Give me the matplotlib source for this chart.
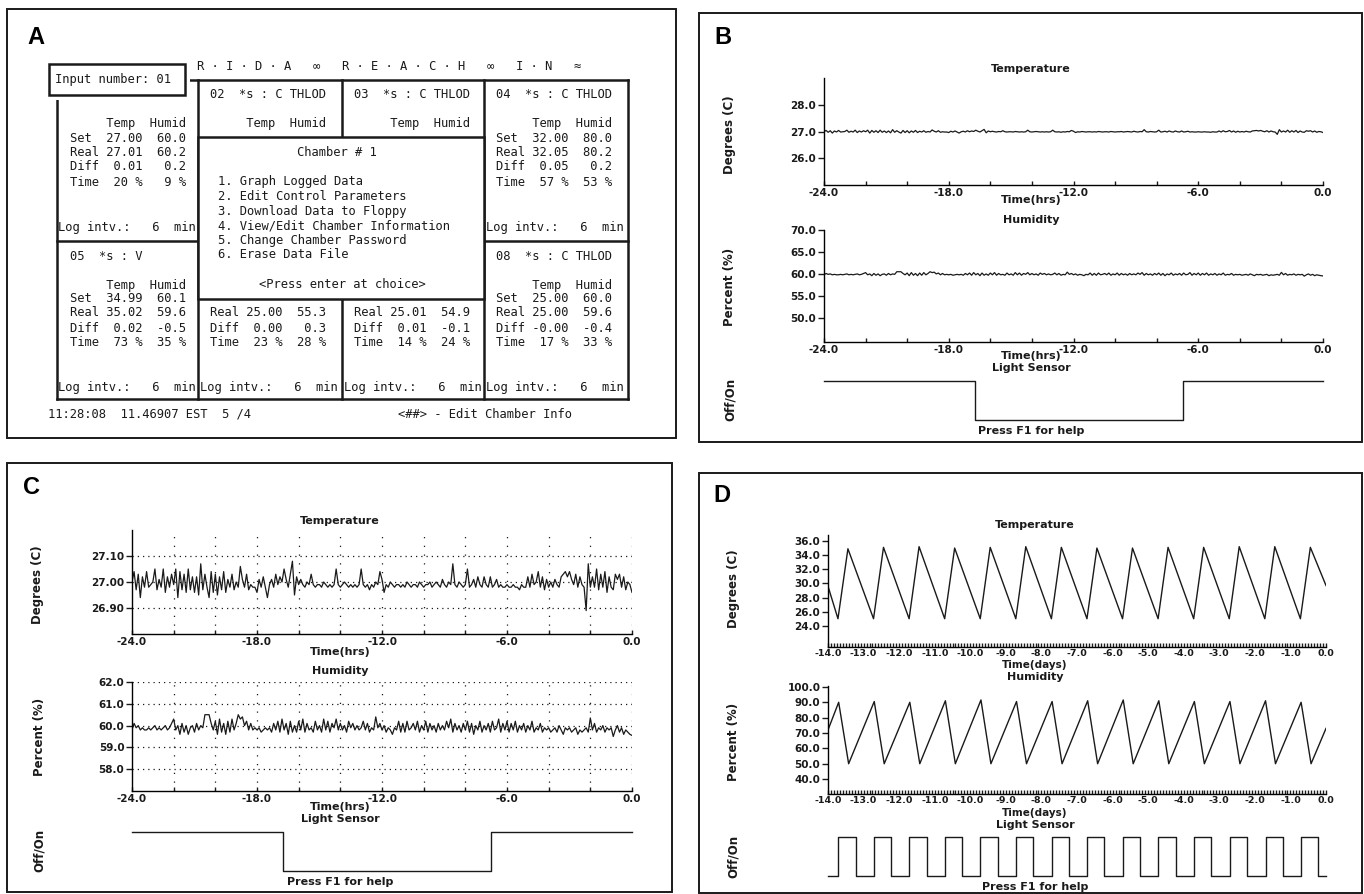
import matplotlib
matplotlib.use('Agg')
import matplotlib.pyplot as plt
from matplotlib.patches import Rectangle
from matplotlib.ticker import MultipleLocator
import numpy as np

W, H = 1364, 894

# ---------------- panel A: chamber overview screen ----------------
input_number = '01'
screen_header = 'R · I · D · A   ∞   R · E · A · C · H   ∞   I · N   ≈'
cell_titles = [None, '02  *s : C THLOD', '03  *s : C THLOD', '04  *s : C THLOD',
               '05  *s : V', None, None, '08  *s : C THLOD']
show_units = [True, True, True, True, True, False, False, True]
set_temp = [27.00, None, None, 32.00, 34.99, None, None, 25.00]
set_humid = [60.0, None, None, 80.0, 60.1, None, None, 60.0]
real_temp = [27.01, None, None, 32.05, 35.02, 25.00, 25.01, 25.00]
real_humid = [60.2, None, None, 80.2, 59.6, 55.3, 54.9, 59.6]
diff_temp = [0.01, None, None, 0.05, 0.02, 0.00, 0.01, -0.0]
diff_humid = [0.2, None, None, 0.2, -0.5, 0.3, -0.1, -0.4]
time_temp = [20, None, None, 57, 73, 23, 14, 17]
time_humid = [9, None, None, 53, 35, 28, 24, 33]
log_minutes = [6, None, None, 6, 6, 6, 6, 6]
menu_title = 'Chamber # 1'
menu_items = ['1. Graph Logged Data', '2. Edit Control Parameters',
              '3. Download Data to Floppy', '4. View/Edit Chamber Information',
              '5. Change Chamber Password', '6. Erase Data File']
menu_prompt = '<Press enter at choice>'
status_left = '11:28:08  11.46907 EST  5 /4'
status_right = '<##> - Edit Chamber Info'

# ---------------- panels B and C: 24 h log, 6 min interval ----------------
temp_24h = [
    27.00, 27.04, 26.97, 27.03, 26.94, 27.02, 26.98, 27.04, 26.98, 26.99,
    27.00, 27.05, 26.97, 27.01, 26.98, 27.05, 26.96, 27.02, 26.98, 27.03,
    26.99, 27.05, 26.94, 27.04, 26.97, 27.03, 26.96, 27.05, 26.97, 27.02,
    26.96, 27.02, 26.95, 27.07, 26.97, 27.03, 26.98, 26.94, 27.04, 26.96,
    27.03, 26.95, 27.02, 26.97, 27.04, 26.96, 27.01, 26.98, 27.03, 26.97,
    27.00, 26.98, 27.06, 27.01, 26.98, 27.03, 26.97, 26.99, 26.98, 26.98,
    26.96, 27.01, 26.98, 27.02, 26.98, 26.94, 26.99, 27.01, 26.98, 27.03,
    26.99, 27.02, 27.00, 27.05, 27.01, 26.98, 27.03, 27.08, 26.95, 27.02,
    26.99, 27.01, 26.99, 26.98, 27.00, 26.99, 27.03, 26.99, 26.98, 26.99,
    26.99, 26.98, 27.00, 26.99, 26.98, 26.99, 26.98, 26.99, 27.05, 26.99,
    26.98, 26.99, 27.00, 26.99, 26.98, 26.99, 26.98, 26.99, 26.98, 26.99,
    27.05, 26.99, 26.98, 26.99, 26.97, 26.99, 26.98, 27.00, 26.99, 27.04,
    27.01, 26.96, 26.99, 26.98, 27.00, 26.99, 26.98, 26.99, 26.99, 26.98,
    26.99, 26.98, 27.00, 26.99, 26.98, 26.99, 26.99, 26.98, 27.00, 26.99,
    26.98, 26.99, 26.99, 27.00, 26.98, 26.99, 27.00, 26.99, 26.98, 27.01,
    26.99, 26.98, 27.00, 26.99, 27.07, 26.99, 26.98, 27.00, 26.99, 26.98,
    26.99, 27.05, 26.98, 26.99, 27.01, 26.98, 27.02, 26.99, 26.98, 27.02,
    26.99, 26.98, 27.02, 26.98, 26.99, 27.01, 26.98, 26.99, 26.98, 26.98,
    26.99, 26.98, 26.98, 26.99, 26.98, 26.98, 26.97, 26.99, 26.98, 26.98,
    27.02, 26.98, 27.03, 26.99, 27.00, 27.04, 26.98, 27.02, 26.97, 27.01,
    26.98, 27.00, 26.98, 27.01, 26.99, 26.98, 27.02, 27.03, 27.04, 27.02,
    27.04, 27.01, 26.99, 27.03, 26.98, 27.02, 26.99, 26.98, 26.89, 27.07,
    26.98, 27.02, 26.98, 27.05, 26.97, 27.03, 26.98, 27.04, 26.96, 27.02,
    26.98, 26.97, 27.03, 27.01, 27.03, 26.98, 27.02, 26.97, 27.00, 26.99,
    26.96]
humid_24h = [
    59.8, 60.1, 59.9, 60.0, 59.8, 59.9, 59.8, 59.8, 59.9, 59.8,
    59.9, 60.0, 59.8, 59.9, 59.8, 59.9, 60.0, 59.8, 59.9, 60.1,
    60.3, 59.8, 60.0, 59.6, 60.1, 59.7, 60.0, 59.6, 59.9, 60.0,
    59.7, 60.1, 59.8, 60.0, 59.9, 60.5, 60.5, 60.5, 60.1, 59.8,
    60.2, 59.6, 60.3, 59.7, 60.1, 59.6, 60.2, 59.7, 60.3, 59.8,
    60.1, 60.5, 60.3, 60.4, 60.0, 60.2, 59.8, 60.1, 59.8, 59.9,
    59.8, 59.9, 59.7, 59.8, 59.9, 59.8, 59.9, 59.7, 60.1, 59.8,
    60.2, 59.7, 60.3, 59.8, 60.1, 59.6, 60.2, 59.7, 60.0, 59.7,
    60.2, 59.8, 60.3, 59.7, 60.1, 59.8, 59.9, 59.7, 60.2, 59.8,
    60.0, 59.7, 60.3, 59.8, 60.2, 59.7, 60.1, 59.9, 60.3, 59.8,
    60.1, 59.8, 60.0, 59.7, 60.2, 59.9, 60.1, 59.8, 60.0, 59.8,
    59.9, 60.2, 59.8, 60.1, 59.7, 59.9, 59.8, 60.4, 59.9, 60.1,
    59.8, 60.0, 59.7, 59.9, 59.8, 59.6, 59.9, 59.8, 60.2, 59.7,
    60.1, 59.7, 60.2, 59.8, 59.9, 60.1, 59.8, 60.2, 59.7, 60.0,
    59.8, 60.2, 59.7, 60.1, 59.8, 60.0, 59.7, 60.1, 59.8, 60.0,
    59.8, 60.2, 59.9, 60.3, 59.7, 60.1, 59.8, 60.0, 59.7, 60.1,
    59.8, 60.2, 59.7, 60.1, 59.6, 60.0, 59.8, 60.2, 59.7, 60.0,
    59.8, 60.1, 59.7, 60.2, 59.8, 59.9, 60.3, 59.7, 60.1, 59.8,
    60.2, 59.7, 60.1, 59.8, 60.2, 59.7, 60.0, 59.8, 60.1, 59.7,
    60.0, 59.8, 60.2, 59.7, 59.9, 59.8, 60.1, 59.7, 59.9, 59.8,
    59.9, 59.7, 59.8, 59.9, 59.7, 60.0, 59.8, 59.6, 59.9, 59.8,
    59.9, 59.7, 59.8, 59.9, 59.6, 59.8, 59.7, 59.8, 59.9, 59.7,
    60.35, 59.8, 60.1, 59.7, 59.9, 59.8, 60.0, 59.7, 59.9, 59.8,
    59.9, 59.5, 59.8, 60.0, 59.7, 59.9, 59.6, 59.8, 59.7, 59.6,
    59.55]
hours = np.linspace(-24, 0, len(temp_24h))
light_hours = [-24.0, -16.75, -6.75, 0.0]
light_state = [1, 0, 1, 1]
hour_ticks = [-24, -18, -12, -6, 0]
hour_labels = ['-24.0', '-18.0', '-12.0', '-6.0', '0.0']

# ---------------- panel D: 14 day cycling log ----------------
temp_d_days = [-14.0, -13.72, -13.44, -12.72, -12.44, -11.72, -11.44, -10.72, -10.44,
               -9.72, -9.44, -8.72, -8.44, -7.72, -7.44, -6.72, -6.44, -5.72, -5.44,
               -4.72, -4.44, -3.72, -3.44, -2.72, -2.44, -1.72, -1.44, -0.72, -0.44, 0.0]
temp_d_vals = [29.6, 25.0, 34.9, 25.0, 35.1, 25.0, 35.2, 25.0, 35.0, 25.0, 35.1, 25.0,
               35.2, 25.0, 35.1, 25.0, 35.0, 25.0, 35.0, 25.0, 35.1, 25.0, 35.1, 25.0,
               35.2, 25.0, 35.2, 25.0, 35.1, 29.7]
humid_d_days = [-14.0, -13.70, -13.42, -12.70, -12.42, -11.70, -11.42, -10.70, -10.42,
                -9.70, -9.42, -8.70, -8.42, -7.70, -7.42, -6.70, -6.42, -5.70, -5.42,
                -4.70, -4.42, -3.70, -3.42, -2.70, -2.42, -1.70, -1.42, -0.70, -0.42, 0.0]
humid_d_vals = [72.0, 90.0, 50.0, 90.5, 50.0, 90.0, 50.0, 91.0, 50.0, 91.5, 50.0, 90.5,
                50.0, 90.5, 50.0, 91.0, 50.0, 91.5, 50.0, 91.0, 50.0, 90.5, 50.0, 90.5,
                50.0, 91.0, 50.0, 90.0, 50.0, 73.0]
light_d_on = [-13.71, -12.72, -11.72, -10.72, -9.72, -8.72, -7.71,
              -6.72, -5.71, -4.71, -3.71, -2.71, -1.70, -0.71]
light_d_off = [-13.22, -12.23, -11.23, -10.23, -9.23, -8.23, -7.22,
               -6.23, -5.22, -4.22, -3.22, -2.22, -1.21, -0.22]
day_ticks = list(range(-14, 1))
day_labels = ['%.1f' % d for d in day_ticks]

plt.rcParams['font.family'] = ['DejaVu Sans']
plt.rcParams['font.weight'] = 'bold'
plt.rcParams['axes.linewidth'] = 1.0

fig = plt.figure(figsize=(W / 100, H / 100), dpi=100)
bg = fig.add_axes([0, 0, 1, 1])
bg.set_xlim(0, W)
bg.set_ylim(H, 0)
bg.axis('off')

INK = '#1a1a1a'
MONO = dict(family='DejaVu Sans Mono', fontweight='normal', fontsize=8.7, color=INK)


def frame(x0, y0, x1, y1, lw=1.4, z=1, fill=False):
    bg.add_patch(Rectangle((x0, y0), x1 - x0, y1 - y0, fill=fill, facecolor='white',
                           edgecolor=INK, lw=lw, zorder=z))


def label(x, y, s, size=8, rot=0):
    bg.text(x, y, s, ha='center', va='center', fontsize=size, rotation=rot,
            fontweight='bold', color=INK)


def letter(x, y, s):
    bg.text(x, y, s, ha='center', va='center', fontsize=17, fontweight='bold',
            family='Liberation Sans', color='black')


def px_axes(x0, y0, x1, y1):
    ax = fig.add_axes([x0 / W, 1 - y1 / H, (x1 - x0) / W, (y1 - y0) / H])
    ax.patch.set_alpha(0)
    return ax


# ================= panel A =================
frame(7, 9, 676, 438)
letter(36, 38, 'A')
col_x = [57, 198, 342, 484, 628]
row_y = [80, 241, 399]
for x in col_x:
    bg.plot([x, x], [row_y[0], row_y[-1]], color=INK, lw=1.8, zorder=1)
for y in row_y:
    bg.plot([col_x[0], col_x[-1]], [y, y], color=INK, lw=1.8, zorder=1)
# the input box hides the upper corner of the first cell
bg.add_patch(Rectangle((45, 60), 145, 40, facecolor='white', edgecolor='none', zorder=1.8))
frame(49, 64, 185, 95, lw=1.8, z=2, fill=True)
bg.text(55, 79, 'Input number: ' + input_number, va='center', zorder=3, **MONO)
bg.text(197, 66, screen_header, va='center', zorder=3, **MONO)

for i in range(8):
    cx = col_x[i % 4] + 12.5
    cy = row_y[i // 4]
    rows = []
    if cell_titles[i]:
        rows.append((15, cell_titles[i]))
    if show_units[i]:
        rows.append((44, '     Temp  Humid'))
    if set_temp[i] is not None:
        rows.append((58, 'Set  %5.2f  %4.1f' % (set_temp[i], set_humid[i])))
    if real_temp[i] is not None:
        rows.append((72, 'Real %5.2f  %4.1f' % (real_temp[i], real_humid[i])))
        rows.append((87, 'Diff %5.2f  %4.1f' % (diff_temp[i], diff_humid[i])))
        rows.append((102, 'Time %3d %%  %2d %%' % (time_temp[i], time_humid[i])))
    for dy, s in rows:
        bg.text(cx, cy + dy, s, va='center', zorder=1.5, **MONO)
    if log_minutes[i] is not None:
        bg.text(col_x[i % 4] + 1.5, cy + 147, 'Log intv.:  %2d  min' % log_minutes[i],
                va='center', zorder=1.5, **MONO)

frame(198, 137, 484, 299, lw=1.8, z=2, fill=True)
bg.text(337, 153, menu_title, ha='center', va='center', zorder=3, **MONO)
for k, item in enumerate(menu_items):
    bg.text(218, 182 + 14.6 * k, item, va='center', zorder=3, **MONO)
bg.text(342, 284, menu_prompt, ha='center', va='center', zorder=3, **MONO)
bg.text(48, 414, status_left, va='center', **MONO)
bg.text(398, 415, status_right, va='center', **MONO)


# ================= plot panels =================
def trace_axes(box, xlim, ylim, yticks, yfmt, xticks, xlabels, xminor, lsize=7.5, xpad=2):
    ax = px_axes(*box)
    ax.set_xlim(*xlim)
    ax.set_ylim(*ylim)
    for s in ('top', 'right'):
        ax.spines[s].set_visible(False)
    ax.set_yticks(yticks)
    ax.set_yticklabels([yfmt % v for v in yticks])
    ax.set_xticks(xticks)
    ax.set_xticklabels(xlabels)
    ax.xaxis.set_minor_locator(MultipleLocator(xminor))
    ax.tick_params(axis='y', direction='out', length=4, width=1, pad=1.5,
                   labelsize=7.5, colors=INK)
    ax.tick_params(axis='x', which='both', direction='in', length=3, width=1,
                   pad=xpad, labelsize=lsize, colors=INK)
    return ax


def light_axes(box, xlim, t, v):
    ax = px_axes(*box)
    ax.set_xlim(*xlim)
    ax.set_ylim(0, 1)
    ax.axis('off')
    ax.step(t, v, where='post', color=INK, lw=1.0, clip_on=False)
    return ax


def dotted_grid(ax, ys, xs):
    for y in ys:
        ax.axhline(y, color=INK, lw=0.9, ls=(0, (1, 3.2)), zorder=0)
    for x in xs:
        ax.axvline(x, color=INK, lw=0.9, ls=(0, (1, 6)), zorder=0)


# ---- panel B ----
frame(699, 13, 1362, 442)
letter(723, 38, 'B')
bx0, bx1, bxc = 824, 1323, 1031
label(bxc, 69, 'Temperature')
ax = trace_axes((bx0, 78, bx1, 185), (-24, 0), (24.95, 29.05), [26, 27, 28], '%.1f',
                hour_ticks, hour_labels, 2)
ax.plot(hours, temp_24h, color=INK, lw=0.9)
label(bxc, 200, 'Time(hrs)')
label(bxc, 220, 'Humidity')
ax = trace_axes((bx0, 230, bx1, 342), (-24, 0), (44.5, 70), [50, 55, 60, 65, 70], '%.1f',
                hour_ticks, hour_labels, 2)
ax.plot(hours, humid_24h, color=INK, lw=0.9)
label(bxc, 356, 'Time(hrs)')
label(bxc, 368, 'Light Sensor')
light_axes((bx0, 381, bx1, 420), (-24, 0), light_hours, light_state)
label(bxc, 431, 'Press F1 for help')
label(730, 135, 'Degrees (C)', 8.5, 90)
label(730, 287, 'Percent (%)', 8.5, 90)
label(730, 399, 'Off/On', 8.5, 90)

# ---- panel C ----
frame(7, 463, 672, 892)
letter(32, 488, 'C')
cx0, cx1, cxc = 132, 632, 340
grid_hours = np.arange(-22, 0.5, 2)
label(cxc, 521, 'Temperature')
ax = trace_axes((cx0, 530, cx1, 634), (-24, 0), (26.80, 27.20), [26.90, 27.00, 27.10],
                '%.2f', hour_ticks, hour_labels, 2)
dotted_grid(ax, [26.90, 27.00, 27.10], grid_hours)
ax.plot(hours, temp_24h, color=INK, lw=0.9)
label(cxc, 652, 'Time(hrs)')
label(cxc, 671, 'Humidity')
ax = trace_axes((cx0, 682, cx1, 791), (-24, 0), (57.0, 62.0), [58, 59, 60, 61, 62], '%.1f',
                hour_ticks, hour_labels, 2)
dotted_grid(ax, [58, 59, 60, 61, 62], grid_hours)
ax.plot(hours, humid_24h, color=INK, lw=0.9)
label(cxc, 807, 'Time(hrs)')
label(cxc, 819, 'Light Sensor')
light_axes((cx0, 832, cx1, 871), (-24, 0), light_hours, light_state)
label(cxc, 882, 'Press F1 for help')
label(38, 585, 'Degrees (C)', 8.5, 90)
label(39, 737, 'Percent (%)', 8.5, 90)
label(39, 850, 'Off/On', 8.5, 90)

# ---- panel D ----
frame(699, 473, 1362, 893)
letter(722, 496, 'D')
dx0, dx1, dxc = 828, 1326, 1035
label(dxc, 525, 'Temperature')
ax = trace_axes((dx0, 535, dx1, 647), (-14, 0), (21.0, 36.85),
                [24, 26, 28, 30, 32, 34, 36], '%.1f', day_ticks, day_labels, 1 / 12,
                6.8, 1.2)
ax.plot(temp_d_days, temp_d_vals, color=INK, lw=1.0)
label(dxc, 665, 'Time(days)', 7.5)
label(dxc, 677, 'Humidity')
ax = trace_axes((dx0, 686, dx1, 794), (-14, 0), (30.3, 100.6),
                [40, 50, 60, 70, 80, 90, 100], '%.1f', day_ticks, day_labels, 1 / 12,
                6.8, 1.2)
ax.plot(humid_d_days, humid_d_vals, color=INK, lw=1.0)
label(dxc, 813, 'Time(days)', 7.5)
label(dxc, 825, 'Light Sensor')
light_t = [-14.0]
light_v = [0]
for on, off in zip(light_d_on, light_d_off):
    light_t += [on, off]
    light_v += [1, 0]
light_t.append(0.0)
light_v.append(0)
light_axes((dx0, 837, dx1, 876), (-14, 0), light_t, light_v)
label(dxc, 887, 'Press F1 for help')
label(733, 589, 'Degrees (C)', 8.5, 90)
label(733, 742, 'Percent (%)', 8.5, 90)
label(733, 856, 'Off/On', 8.5, 90)

fig.savefig('out.png', dpi=100, facecolor='white')
